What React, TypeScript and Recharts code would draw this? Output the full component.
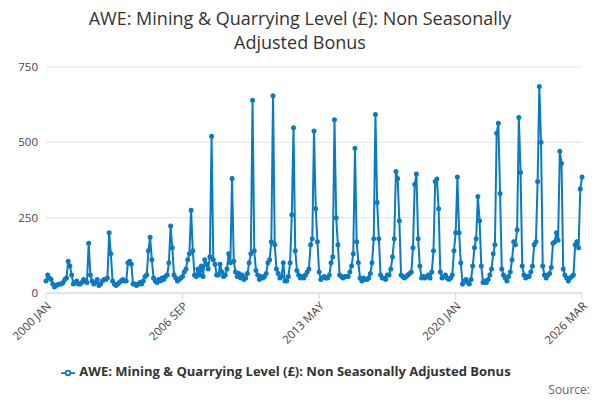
import React from "react"
import { LineChart, Line, XAxis, YAxis, CartesianGrid, Legend } from "recharts"

const startYear = 2000
const months = ["JAN", "FEB", "MAR", "APR", "MAY", "JUN", "JUL", "AUG", "SEP", "OCT", "NOV", "DEC"]

// monthly values, one row per year (2000..2026)
const bonusByYear: number[][] = [
  [40, 60, 50, 45, 30, 20, 25, 28, 30, 30, 35, 45],
  [50, 105, 90, 60, 30, 35, 40, 30, 30, 35, 45, 40],
  [35, 165, 60, 40, 30, 35, 45, 25, 30, 40, 45, 45],
  [50, 200, 130, 40, 30, 25, 30, 35, 40, 45, 40, 40],
  [100, 105, 95, 30, 30, 25, 30, 35, 30, 40, 55, 60],
  [140, 185, 110, 50, 40, 35, 45, 40, 50, 45, 55, 60],
  [100, 222, 150, 60, 50, 40, 45, 50, 55, 70, 80, 110],
  [130, 275, 140, 60, 55, 80, 60, 90, 55, 110, 95, 80],
  [120, 520, 110, 95, 60, 60, 95, 70, 55, 60, 80, 130],
  [100, 380, 105, 70, 55, 65, 50, 60, 45, 50, 65, 100],
  [130, 640, 140, 75, 60, 45, 55, 50, 55, 65, 100, 110],
  [170, 655, 160, 80, 65, 50, 55, 100, 40, 40, 55, 100],
  [260, 548, 140, 75, 60, 50, 55, 50, 60, 70, 80, 160],
  [180, 538, 280, 170, 70, 45, 50, 55, 50, 50, 60, 100],
  [120, 575, 250, 160, 60, 55, 50, 55, 55, 55, 70, 90],
  [130, 480, 170, 100, 50, 40, 50, 45, 45, 50, 65, 100],
  [180, 592, 300, 180, 60, 50, 50, 45, 60, 60, 80, 120],
  [180, 403, 380, 240, 60, 55, 50, 55, 60, 65, 70, 150],
  [360, 395, 180, 90, 50, 55, 50, 55, 60, 50, 70, 140],
  [370, 378, 280, 70, 50, 55, 60, 50, 45, 50, 60, 140],
  [200, 385, 200, 100, 30, 40, 45, 35, 30, 45, 90, 150],
  [180, 320, 240, 90, 35, 40, 35, 45, 60, 80, 130, 160],
  [530, 563, 330, 80, 60, 50, 40, 55, 70, 110, 170, 160],
  [210, 582, 400, 90, 60, 50, 55, 55, 70, 90, 160, 170],
  [370, 685, 500, 90, 60, 50, 60, 65, 85, 165, 170, 200],
  [175, 470, 430, 80, 60, 50, 40, 50, 55, 60, 160, 170],
  [150, 345, 385],
]

const xTicks = ["2000 JAN", "2006 SEP", "2013 MAY", "2020 JAN", "2026 MAR"]
const yTicks = [0, 250, 500, 750]

const data = bonusByYear.flatMap((row, yi) =>
  row.map((v, mi) => ({ date: `${startYear + yi} ${months[mi]}`, value: v }))
)

const font = "'Open Sans', 'DejaVu Sans', sans-serif"
const color = "#0a7bc2"

export default function App() {
  return (
    <div style={{ position: "fixed", left: 0, top: 0, width: 600, height: 400, background: "#fff", fontFamily: font }}>
      <div style={{ position: "absolute", top: 6, width: 600, textAlign: "center", fontSize: 18, color: "#333", lineHeight: "24px" }}>
        AWE: Mining &amp; Quarrying Level (£): Non Seasonally
        <br />
        Adjusted Bonus
      </div>
      <LineChart width={600} height={400} data={data} margin={{ top: 67, right: 18, bottom: 40, left: 0 }}>
        <CartesianGrid vertical={false} stroke="#e3e3e3" />
        <XAxis
          dataKey="date"
          ticks={xTicks}
          interval={0}
          tick={{ fontSize: 11.5, fill: "#444", fontFamily: font, angle: -45, textAnchor: "end" } as any}
          tickLine={{ stroke: "#ccd6eb" }}
          axisLine={{ stroke: "#ccd6eb" }}
          height={49}
        />
        <YAxis
          domain={[0, 750]}
          ticks={yTicks}
          width={46}
          tick={{ fontSize: 11.5, fill: "#444", fontFamily: font }}
          tickLine={false}
          axisLine={false}
        />
        <Legend
          verticalAlign="bottom"
          wrapperStyle={{ top: 362, bottom: "auto", fontSize: 13, fontWeight: 700, color: "#333", fontFamily: font }}
          formatter={(v) => <span style={{ color: "#333" }}>{v}</span>}
        />
        <Line
          type="linear"
          dataKey="value"
          name="AWE: Mining & Quarrying Level (£): Non Seasonally Adjusted Bonus"
          stroke={color}
          strokeWidth={2}
          dot={{ r: 1.5, fill: color, stroke: color }}
          isAnimationActive={false}
        />
      </LineChart>
      <div style={{ position: "absolute", right: 10, top: 381, fontSize: 12, color: "#666" }}>Source:</div>
    </div>
  )
}
